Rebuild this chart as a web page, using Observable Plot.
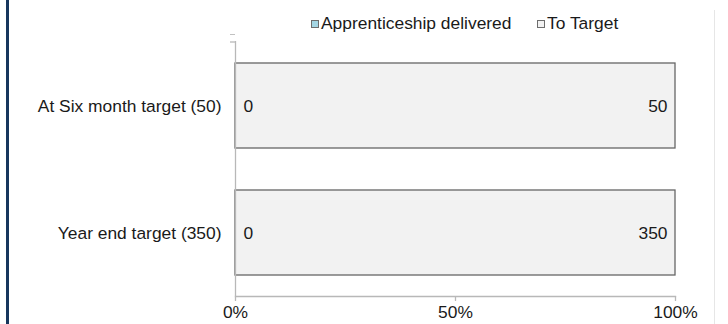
<!DOCTYPE html>
<html>
<head>
<meta charset="utf-8">
<script src="https://cdn.jsdelivr.net/npm/d3@7"></script>
<script src="https://cdn.jsdelivr.net/npm/@observablehq/plot@0.6"></script>
<style>
  html, body { margin: 0; padding: 0; background: #fff; }
  #wrap { position: relative; width: 728px; height: 324px; overflow: hidden;
          font-family: "Liberation Sans", Arial, sans-serif; color: #1a1a1a; }
  #edge { position: absolute; left: 6px; top: 0; width: 3px; height: 324px; background: #17365d; }
  #rightline { position: absolute; left: 714px; top: 10px; width: 1px; height: 314px; background: #e6e6e6; }
  #legend { height: 34px; position: relative; font-size: 17.4px; }
  .item { position: absolute; top: 13px; display: flex; align-items: center; white-space: nowrap; }
  .sw { width: 6px; height: 6px; border: 1px solid #6d6d6d; margin-right: 2px; }
  #chart { position: absolute; left: 0; top: 34px; }
</style>
</head>
<body>
<div id="wrap">
  <div id="legend"></div>
  <div id="chart"></div>
  <div id="edge"></div>
  <div id="rightline"></div>
</div>
<script>
// Targets and delivery counts
const categories = ["At Six month target (50)", "Year end target (350)"];
const seriesNames = ["Apprenticeship delivered", "To Target"];
const delivered = [0, 0];
const toTarget = [50, 350];
const xTicks = [0, 0.5, 1];
const seriesColors = ["#a4d6e4", "#f2f2f2"];

// Long-format rows for stacking
const rows = categories.flatMap((cat, i) => [
  {cat, series: seriesNames[0], value: delivered[i]},
  {cat, series: seriesNames[1], value: toTarget[i]}
]);

// Legend
const legend = document.getElementById("legend");
const legendLeft = [311, 537];
seriesNames.forEach((name, i) => {
  const it = document.createElement("div");
  it.className = "item";
  it.style.left = legendLeft[i] + "px";
  it.innerHTML = `<span class="sw" style="background:${seriesColors[i]}"></span><span>${name}</span>`;
  legend.appendChild(it);
});

const axisColor = "#b8b8b8";
const fontSize = 17.4;

// Band-boundary ticks on the category axis
function categoryTicks(index, scales, values, dimensions) {
  const g = d3.create("svg:g").attr("stroke", axisColor).attr("stroke-width", 1.3);
  const bw = scales.y.bandwidth;
  const x0 = dimensions.marginLeft;
  const edges = [scales.y(categories[0])].concat(categories.map(c => scales.y(c) + bw));
  for (const y of edges) {
    g.append("line").attr("x1", x0 - 5).attr("x2", x0).attr("y1", y).attr("y2", y);
  }
  return g.node();
}

const chart = Plot.plot({
  width: 728,
  height: 290,
  marginLeft: 235,
  marginRight: 53,
  marginTop: 7,
  marginBottom: 28,
  style: {fontFamily: "Liberation Sans, Arial, sans-serif", fontSize: fontSize + "px", color: "#1a1a1a", background: "transparent"},
  x: {domain: [0, 1], axis: null},
  y: {domain: categories, padding: 0, axis: null},
  color: {domain: seriesNames, range: seriesColors},
  marks: [
    Plot.barX(rows, Plot.stackX({
      x: "value", y: "cat", fill: "series", z: "series", offset: "normalize", order: seriesNames,
      stroke: "#666", strokeWidth: 1.3, insetTop: 21, insetBottom: 21
    })),
    // value labels: delivered at the bar start, remaining at the bar end
    Plot.text(rows, Plot.stackX1({
      x: "value", y: "cat", z: "series", offset: "normalize", order: seriesNames,
      text: d => d.series === seriesNames[0] ? String(d.value) : null,
      textAnchor: "start", dx: 8, fill: "#1a1a1a", fontSize
    })),
    Plot.text(rows, Plot.stackX2({
      x: "value", y: "cat", z: "series", offset: "normalize", order: seriesNames,
      text: d => d.series === seriesNames[1] ? String(d.value) : null,
      textAnchor: "end", dx: -8, fill: "#1a1a1a", fontSize
    })),
    // axis lines
    Plot.ruleX([0], {stroke: axisColor, strokeWidth: 1.3}),
    Plot.axisX({
      ticks: xTicks, tickFormat: d3.format(".0%"), tickSize: 5, tickPadding: 4,
      stroke: axisColor, strokeWidth: 1.3, fill: "#1a1a1a", fontSize, label: null
    }),
    Plot.frame({anchor: "bottom", stroke: axisColor, strokeWidth: 1.3}),
    Plot.axisY({
      tickSize: 0, tickPadding: 14, fill: "#1a1a1a", fontSize, label: null
    }),
    categoryTicks
  ]
});
document.getElementById("chart").appendChild(chart);
</script>
</body>
</html>
